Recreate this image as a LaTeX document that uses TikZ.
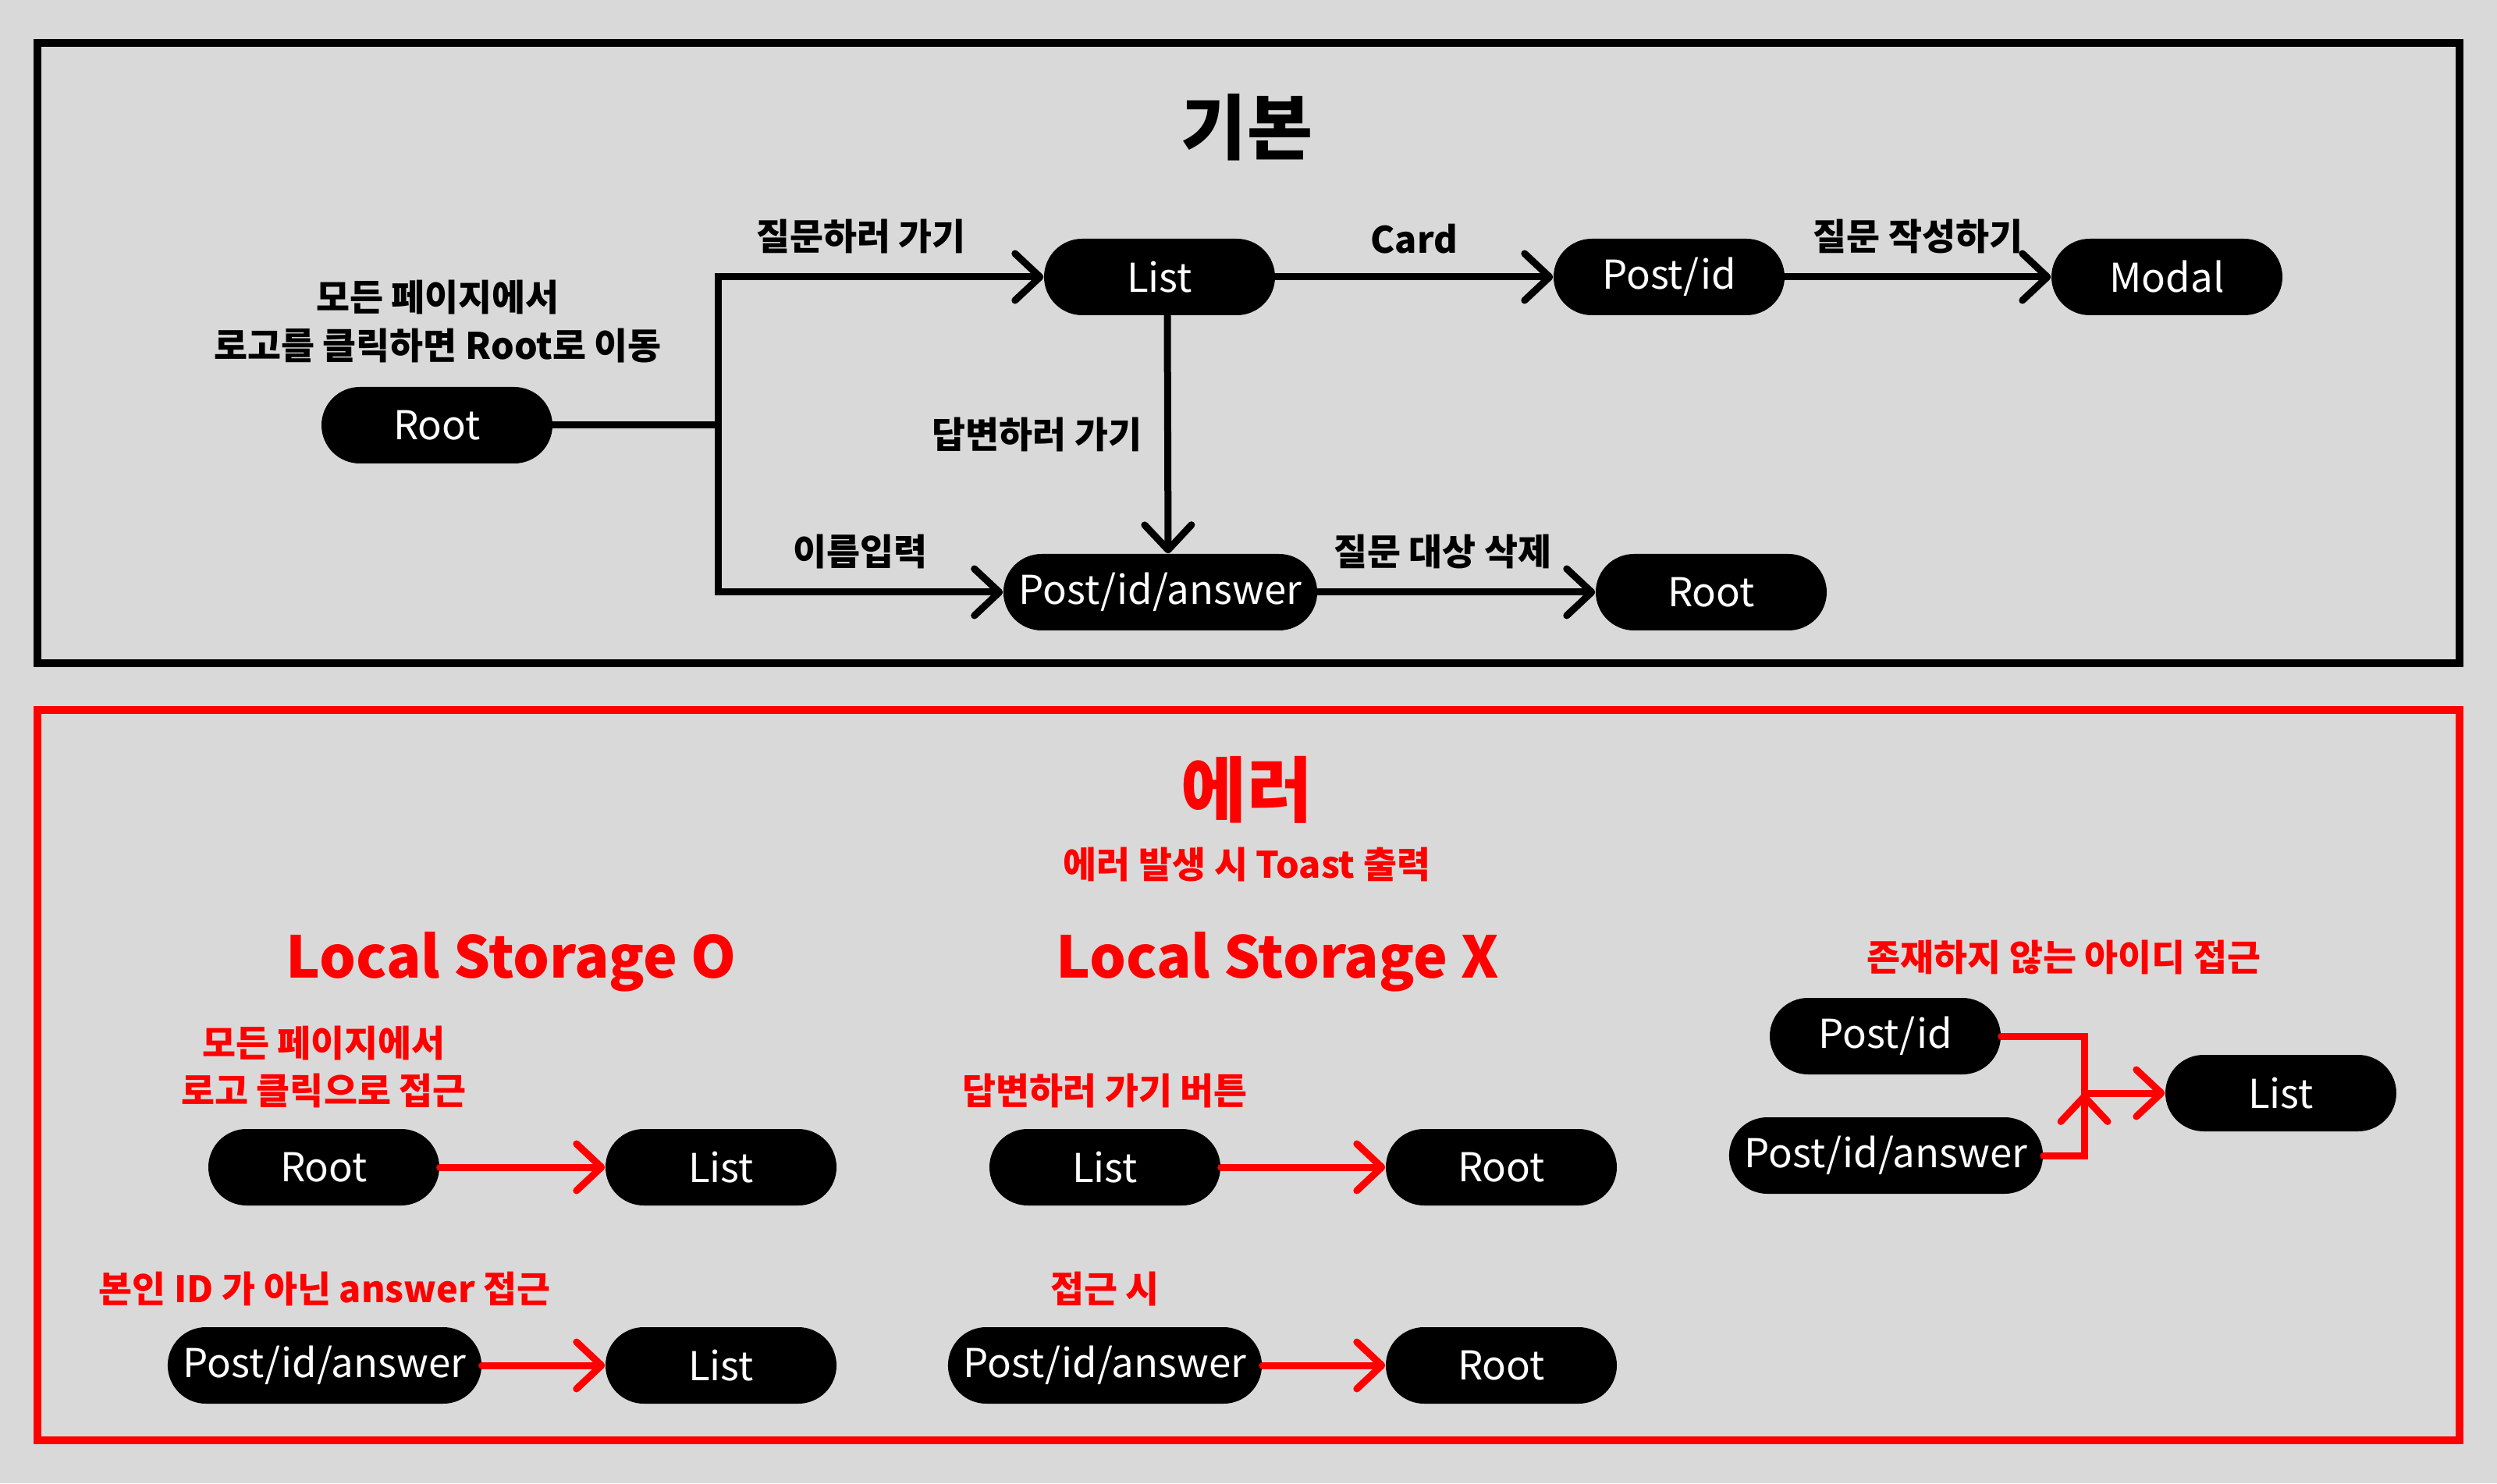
\documentclass[tikz,border=0pt]{standalone}
\usepackage{fontspec}
\setmainfont{Noto Sans CJK KR}
\usepackage{tikz}
\usetikzlibrary{arrows.meta,positioning}
\definecolor{bg}{HTML}{D9D9D9}
\definecolor{err}{HTML}{FF0000}
\tikzstyle{pg}=[rectangle, rounded corners=4.9mm, fill=black, text=white, minimum height=9.8mm, minimum width=29.6mm, inner xsep=2mm, font=\fontsize{14.5}{17}\selectfont]
\tikzstyle{lb}=[inner sep=1pt, align=center, font=\fontsize{13.3}{17.4}\selectfont\bfseries]
\tikzstyle{elb}=[lb, text=err]
\tikzstyle{tt}=[font=\fontsize{26}{30}\selectfont\bfseries]
\tikzstyle{big}=[text=err, font=\fontsize{21}{26}\selectfont\bfseries]
\tikzstyle{ln}=[line width=2.56pt, line cap=round]

\begin{document}
\begin{tikzpicture}[>={Straight Barb[length=3.2mm,width=6mm,round]}]
%
  \fill[bg] (0,0) rectangle (32,19.01);
  \draw[line width=2.85pt] (0.48,10.51) rectangle (31.52,18.46);
  \draw[err, line width=2.85pt] (0.48,0.55) rectangle (31.52,9.91);
%
  \node[tt] (t1) at (15.98,17.38) {기본};
  \node[lb] (note) at (5.61,14.89) {모든 페이지에서\\로고를 클릭하면 Root로 이동};
  \node[pg] (root) at (5.60,13.56) {Root};
  \node[pg] (list) at (14.86,15.46) {List};
  \node[pg] (post) at (21.39,15.46) {Post/id};
  \node[pg] (modal) at (27.77,15.46) {Modal};
  \node[pg] (ans) at (14.87,11.42) {Post/id/answer};
  \node[pg] (root2) at (21.93,11.42) {Root};
  \coordinate (j) at (9.20,13.56);
%
  \draw[ln] (root) -- (j);
  \draw[ln,->] (j) |- (list) node[lb, pos=0.72, above=2.2mm] {질문하러 가기};
  \draw[ln,->] (j) |- (ans) node[lb, pos=0.75, above=2.2mm] {이름입력};
  \draw[ln,->] (list) -- (post) node[lb, midway, above=2.2mm] {Card};
  \draw[ln,->] (post) -- (modal) node[lb, midway, above=2.2mm] {질문 작성하기};
  \draw[ln,->] ([xshift=1mm]list.south) -- ([xshift=1mm]ans.north) node[lb, midway, left=2.5mm] {답변하러 가기};
  \draw[ln,->] (ans) -- (root2) node[lb, pos=0.45, above=2.2mm] {질문 대상 삭제};
%
  \node[tt, text=err] (t2) at (15.98,8.89) {에러};
  \node[elb] (sub) at (15.98,7.93) {에러 발생 시 Toast 출력};
  \node[big] (lso) at (6.55,6.68) {Local Storage O};
  \node[big] (lsx) at (16.37,6.68) {Local Storage X};
  \node[elb] (noid) at (26.45,6.74) {존재하지 않는 아이디 접근};
%
  \node[pg] (eroot) at (4.15,4.05) {Root};
  \node[pg] (elist) at (9.24,4.05) {List};
  \node[pg] (eans) at (4.16,1.51) {Post/id/answer};
  \node[pg] (elist2) at (9.24,1.51) {List};
  \node[elb] [above=2.2mm of eroot] {모든 페이지에서\\로고 클릭으로 접근};
  \node[elb] [above=2.2mm of eans] {본인 ID 가 아닌 answer 접근};
%
  \node[pg] (xlist) at (14.16,4.05) {List};
  \node[pg] (xroot) at (19.24,4.05) {Root};
  \node[pg] (xans) at (14.16,1.51) {Post/id/answer};
  \node[pg] (xroot2) at (19.24,1.51) {Root};
  \node[elb] [above=2.2mm of xlist] {답변하러 가기 버튼};
  \node[elb] [above=2.2mm of xans] {접근 시};
%
  \node[pg] (npost) at (24.16,5.73) {Post/id};
  \node[pg] (nans) at (24.17,4.20) {Post/id/answer};
  \node[pg] (nlist) at (29.23,5.00) {List};
  \coordinate (m) at (26.71,5.00);
%
  \path[ln, draw=err, ->]
  (eroot) edge (elist)
  (eans) edge (elist2)
  (xlist) edge (xroot)
  (xans) edge (xroot2)
  (m) edge[line cap=butt] (nlist);
  \draw[ln, err] (npost) -| (m) |- (nans);
%
\end{tikzpicture}
\end{document}
